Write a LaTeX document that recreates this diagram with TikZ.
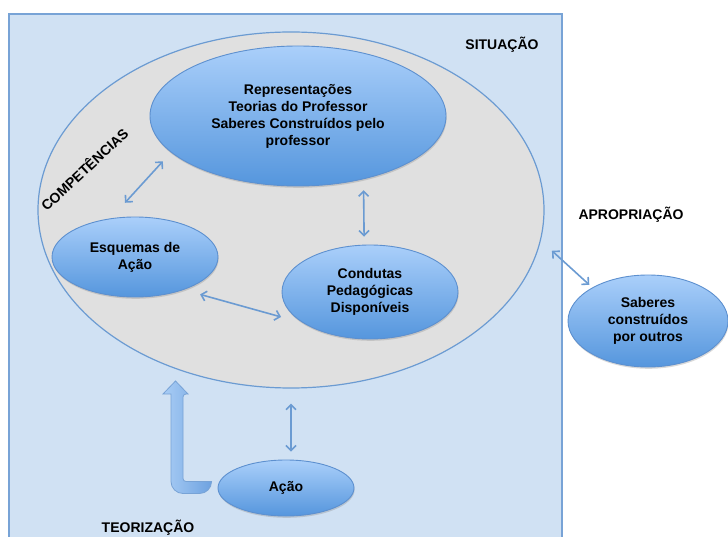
\documentclass[tikz,border=0pt]{standalone}
\usepackage{fontspec}
\setmainfont{Liberation Sans}
\usetikzlibrary{shapes.geometric,shadows,arrows.meta}

\definecolor{framefill}{HTML}{D0E1F3}
\definecolor{frameline}{HTML}{78A3D6}
\definecolor{compfill}{HTML}{E0E0E0}
\definecolor{bubtop}{HTML}{AACFFA}
\definecolor{bubbot}{HTML}{5596DD}
\definecolor{bubline}{HTML}{5D90CF}
\definecolor{linkcol}{HTML}{6B9BD2}
\definecolor{fatlight}{HTML}{A9CDF5}
\definecolor{fatdark}{HTML}{6EA2E0}

\begin{document}
\begin{tikzpicture}[x=1pt, y=-1pt,
  font=\fontsize{14}{17}\selectfont\bfseries,
  bubble/.style={ellipse, draw=bubline, line width=0.9pt, top color=bubtop, bottom color=bubbot, align=center, inner sep=0pt, drop shadow={shadow xshift=0.6pt, shadow yshift=-1.8pt, opacity=0.3}},
  link/.style={draw=linkcol, line width=1.6pt, {Straight Barb[length=5pt,width=10pt]}-{Straight Barb[length=5pt,width=10pt]}},
  heading/.style={inner sep=0pt}]
\useasboundingbox (0,0) rectangle (728,537);
\draw[draw=frameline, fill=framefill, line width=1.5pt] (9,14) rectangle (562,545);
\node[ellipse, draw=linkcol, fill=compfill, line width=1.2pt, minimum width=506pt, minimum height=356pt] (comp) at (291,210) {};

\node[bubble, minimum width=296pt, minimum height=140pt] (rep) at (298,116) {Representações\\Teorias do Professor\\Saberes Construídos pelo\\professor};
\node[bubble, minimum width=166pt, minimum height=80pt] (esq) at (135,257) {Esquemas de\\Ação};
\node[bubble, minimum width=176pt, minimum height=94pt] (cond) at (370,292) {Condutas\\Pedagógicas\\Disponíveis};
\node[bubble, minimum width=136pt, minimum height=56pt] (acao) at (286,488) {Ação};
\node[bubble, minimum width=160pt, minimum height=92pt] (sab) at (648,321) {Saberes\\construídos\\por outros};

\draw[link, shorten <=21pt, shorten >=12pt] (esq.122) -- (rep.196);
\draw[link, shorten <=11pt, shorten >=8pt] (rep.316) -- (cond.97);
\draw[link, shorten <=17pt, shorten >=23pt] (esq.326) -- (cond.205);
\draw[link, shorten <=15pt, shorten >=8pt] (comp.south) -- (comp.south |- acao.north);
\draw[link, shorten <=15pt, shorten >=4pt] (comp.353) -- (sab.149);

\draw[draw=frameline, line width=0.8pt, left color=fatlight, right color=fatdark]
  ([shift={(-6,-6.5)}]acao.west) [rounded corners=3pt] -| (183,394) [sharp corners] -- (188,394) -- (175.5,381) -- (163,394) -- (171,394)
  [rounded corners=12pt] |- ([shift={(-6,5.5)}]acao.west) [sharp corners] -- cycle;

\node[heading] (sit) at (502,45) {SITUAÇÃO};
\node[heading] (apr) at (631,215) {APROPRIAÇÃO};
\node[heading] (teo) at (148,528) {TEORIZAÇÃO};
\node[heading, rotate=43] (compt) at (84,169) {COMPETÊNCIAS};
\end{tikzpicture}
\end{document}
